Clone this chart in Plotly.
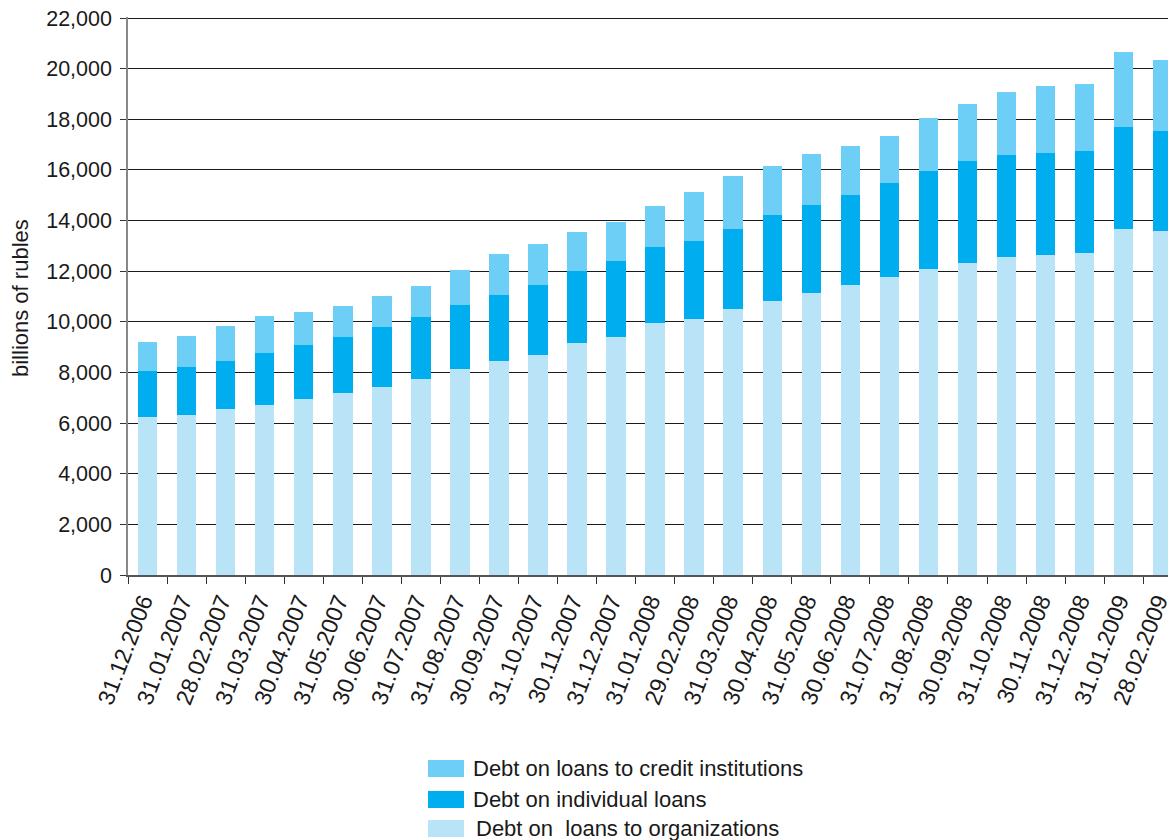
import plotly.graph_objects as go

dates = ["31.12.2006", "31.01.2007", "28.02.2007", "31.03.2007", "30.04.2007", "31.05.2007",
         "30.06.2007", "31.07.2007", "31.08.2007", "30.09.2007", "31.10.2007", "30.11.2007",
         "31.12.2007", "31.01.2008", "29.02.2008", "31.03.2008", "30.04.2008", "31.05.2008",
         "30.06.2008", "31.07.2008", "31.08.2008", "30.09.2008", "31.10.2008", "30.11.2008",
         "31.12.2008", "31.01.2009", "28.02.2009"]

organizations = [6230, 6310, 6545, 6705, 6940, 7180, 7415, 7730, 8125, 8445, 8680, 9155,
                 9395, 9945, 10105, 10500, 10815, 11135, 11450, 11765, 12080, 12320, 12555,
                 12635, 12715, 13665, 13585]
individuals = [1820, 1895, 1900, 2055, 2135, 2215, 2375, 2455, 2535, 2610, 2770, 2850,
               3005, 3010, 3085, 3165, 3400, 3480, 3560, 3720, 3880, 4035, 4035,
               4035, 4035, 4035, 3955]
credit_institutions = [1145, 1230, 1385, 1465, 1305, 1225, 1225, 1225, 1385, 1620, 1620, 1545,
                       1545, 1620, 1940, 2095, 1940, 2015, 1935, 1860, 2095, 2255, 2490,
                       2650, 2650, 2965, 2810]

names = ["Debt on  loans to organizations", "Debt on individual loans",
         "Debt on loans to credit institutions"]
colors = ["#B9E4F8", "#00ADEE", "#6DCEF6"]

FONT = "Liberation Sans, Arial, Helvetica, sans-serif"
OFF = 8  # page body margin
W, H = 1176, 840
ML, MR, MT = 120, 8, 9
MB = H - (575 - OFF)
PW, PH = W - ML - MR, H - MT - MB

fig = go.Figure()
for vals, nm, col in zip([organizations, individuals, credit_institutions], names, colors):
    fig.add_trace(go.Bar(x=dates, y=vals, name=nm, marker=dict(color=col, line=dict(width=0)),
                         showlegend=False))

def px_x(px):
    return (px - OFF - ML) / PW

def px_y(py):
    return (H - MB - (py - OFF)) / PH

# custom legend (top to bottom: credit, individual, organizations)
legend_rows = [(2, 760, 777, 471), (1, 791, 808, 471), (0, 820, 837, 474)]
shapes = []
annotations = []
for idx, y0, y1, tx in legend_rows:
    shapes.append(dict(type="rect", xref="paper", yref="paper",
                       x0=px_x(428), x1=px_x(464), y0=px_y(y1), y1=px_y(y0),
                       fillcolor=colors[idx], line=dict(width=0)))
    annotations.append(dict(text=names[idx].replace("  ", "\u00a0 "), xref="paper", yref="paper",
                            x=px_x(tx), y=px_y((y0 + y1) / 2), xanchor="left", yanchor="middle",
                            showarrow=False, font=dict(family=FONT, size=22, color="#1a1a1a")))

annotations.append(dict(text="billions of rubles", xref="paper", yref="paper",
                        x=px_x(21), y=px_y(298), textangle=-90, xanchor="center", yanchor="middle",
                        showarrow=False, font=dict(family=FONT, size=22, color="#1a1a1a")))

fig.update_layout(
    width=W, height=H,
    margin=dict(l=ML, r=MR, t=MT, b=MB, autoexpand=False),
    barmode="stack", bargap=0.5,
    plot_bgcolor="white", paper_bgcolor="white",
    font=dict(family=FONT, size=21, color="#1a1a1a"),
    shapes=shapes, annotations=annotations,
    xaxis=dict(type="category", range=[-0.5, 26.34], tickangle=-69,
               showgrid=False, showline=True, linecolor="#555555", linewidth=1.5,
               ticks="outside", tickson="boundaries", ticklen=7, tickcolor="#333333",
               tickwidth=1.2, ticklabelshift=-5, ticklabelstandoff=2,
               tickfont=dict(family=FONT, size=23, color="#1a1a1a")),
    yaxis=dict(range=[0, 22040], tickvals=[0, 2000, 4000, 6000, 8000, 10000, 12000,
                                           14000, 16000, 18000, 20000, 22000],
               tickformat=",d", ticklabeloverflow="allow",
               showgrid=True, gridcolor="#1a1a1a", gridwidth=1.3,
               showline=True, linecolor="#888888", linewidth=1.5,
               ticks="outside", ticklen=6, tickcolor="#333333", tickwidth=1.2,
               zeroline=False, ticklabelstandoff=4,
               tickfont=dict(family=FONT, size=21.5, color="#1a1a1a")),
)

fig.write_html("out.html")
